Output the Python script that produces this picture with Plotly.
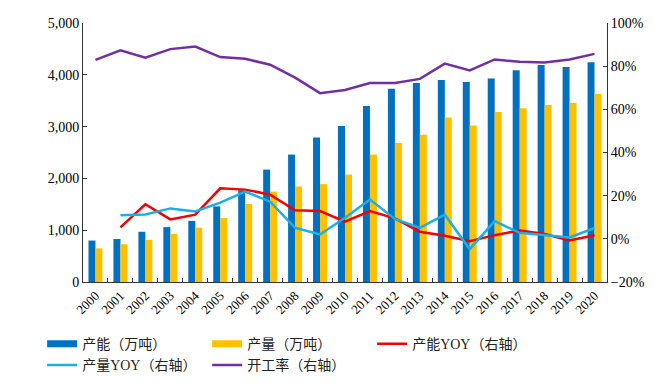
import plotly.graph_objects as go

years = [str(y) for y in range(2000, 2021)]
capacity = [800, 830, 970, 1060, 1180, 1460, 1770, 2170, 2460, 2790, 3010,
            3400, 3730, 3840, 3900, 3860, 3930, 4090, 4190, 4150, 4240]
output = [650, 730, 815, 930, 1050, 1235, 1505, 1745, 1845, 1890, 2075,
          2460, 2685, 2845, 3175, 3020, 3280, 3355, 3415, 3455, 3635]
cap_yoy = [None, 5.3, 16.0, 9.0, 11.2, 23.4, 22.8, 20.5, 13.2, 12.9, 8.0,
           12.9, 9.5, 3.3, 1.4, -1.1, 1.7, 3.9, 2.2, -0.8, 1.7]
out_yoy = [None, 10.9, 11.3, 14.1, 12.7, 16.8, 21.9, 17.2, 5.1, 2.0, 9.8,
           18.2, 9.2, 5.1, 11.2, -4.8, 8.2, 2.8, 1.7, 0.6, 5.0]
util = [82.9, 87.3, 83.9, 87.9, 89.1, 84.2, 83.4, 80.7, 74.7, 67.5, 69.0,
        72.2, 72.2, 74.1, 81.2, 78.0, 83.1, 82.0, 81.7, 83.1, 85.7]

BLUE = "#0070C0"
YELLOW = "#FFC000"
RED = "#F00000"
CYAN = "#1AAFE6"
PURPLE = "#7030A0"

SERIF = "Liberation Serif, Times New Roman, Noto Sans CJK SC, serif"

fig = go.Figure()
fig.add_trace(go.Bar(x=years, y=capacity, marker=dict(color=BLUE, line_width=0),
                     name="产能（万吨）", showlegend=False))
fig.add_trace(go.Bar(x=years, y=output, marker=dict(color=YELLOW, line_width=0),
                     name="产量（万吨）", showlegend=False))
fig.add_trace(go.Scatter(x=years, y=cap_yoy, mode="lines", yaxis="y2",
                         line=dict(color=RED, width=2.5), showlegend=False))
fig.add_trace(go.Scatter(x=years, y=out_yoy, mode="lines", yaxis="y2",
                         line=dict(color=CYAN, width=2.5), showlegend=False))
fig.add_trace(go.Scatter(x=years, y=util, mode="lines", yaxis="y2",
                         line=dict(color=PURPLE, width=2.5), showlegend=False))

# legend entries
legend_items = [("产能（万吨）", BLUE, 7), ("产量（万吨）", YELLOW, 7),
                ("产能YOY（右轴）", RED, 2.5), ("产量YOY（右轴）", CYAN, 2.5),
                ("开工率（右轴）", PURPLE, 2.5)]
for name, col, w in legend_items:
    fig.add_trace(go.Scatter(x=[None], y=[None], mode="lines", name=name,
                             line=dict(color=col, width=w)))

fig.update_layout(
    width=647, height=367,
    margin=dict(l=75, r=48, t=15, b=93, autoexpand=False),
    paper_bgcolor="white", plot_bgcolor="white",
    barmode="group", bargap=0.44, bargroupgap=0,
    font=dict(family=SERIF, size=14, color="#000"),
    showlegend=True,
    legend=dict(orientation="h", x=-0.078, xanchor="left", y=-0.178, yanchor="top",
                entrywidth=120, entrywidthmode="pixels",
                font=dict(family=SERIF, size=14, color="#222"),
                bgcolor="rgba(0,0,0,0)"),
    xaxis=dict(type="category", tickangle=-45, tickson="boundaries",
               ticks="inside", ticklen=4, tickcolor="#333",
               showline=True, linecolor="#333", linewidth=1,
               showgrid=False, tickfont=dict(size=13), automargin=False,
               range=[-0.5, 20.5]),
    yaxis=dict(range=[0, 5000], dtick=1000, tickformat=",",
               ticks="inside", ticklen=4, tickcolor="#333",
               showline=True, linecolor="#333", linewidth=1,
               showgrid=False, zeroline=False, automargin=False),
    yaxis2=dict(range=[-20, 100], dtick=20, ticksuffix="%",
                overlaying="y", side="right",
                ticks="inside", ticklen=4, tickcolor="#333",
                showline=True, linecolor="#333", linewidth=1,
                showgrid=False, zeroline=False, automargin=False),
)

fig.write_html("out.html")
